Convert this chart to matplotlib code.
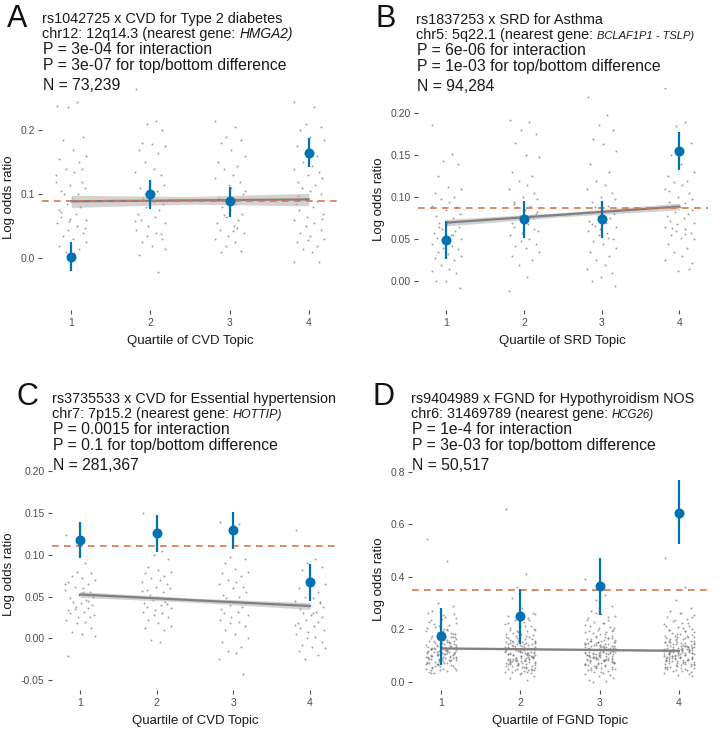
import numpy as np
import matplotlib
matplotlib.use("Agg")
import matplotlib.pyplot as plt

W, H = 722, 731
plt.rcParams['font.family'] = ['Liberation Sans', 'DejaVu Sans']

quartiles = [1, 2, 3, 4]

# ---------------- Panel A ----------------
A_mean = [0.002, 0.100, 0.089, 0.165]
A_lo = [-0.020, 0.077, 0.065, 0.142]
A_hi = [0.025, 0.122, 0.112, 0.188]
A_ref = 0.0895
A_fit_x = [1, 2.5, 4]
A_fit = [0.089, 0.0905, 0.092]
A_fit_lo = [0.0795, 0.0845, 0.0820]
A_fit_hi = [0.0985, 0.0965, 0.1015]
A_dots = [
    [0.238, 0.245, 0.236, 0.19, 0.185, 0.17, 0.16, 0.155, 0.15, 0.14, 0.135, 0.13, 0.12, 0.115, 0.11, 0.105,
     0.10, 0.10, 0.095, 0.09, 0.085, 0.08, 0.075, 0.07, 0.065, 0.06, 0.058, 0.055, 0.05, 0.045, 0.04,
     0.035, 0.03, 0.025, 0.02, 0.015, 0.01, 0.008, 0.12, 0.14, 0.062, 0.048, 0.072],
    [0.264, 0.215, 0.21, 0.20, 0.18, 0.178, 0.175, 0.17, 0.165, 0.15, 0.14, 0.135, 0.13, 0.12, 0.115, 0.11,
     0.105, 0.095, 0.09, 0.085, 0.08, 0.075, 0.07, 0.065, 0.06, 0.055, 0.05, 0.045, 0.04, 0.035, 0.03,
     0.025, 0.02, 0.015, 0.005, -0.022, 0.10, 0.088, 0.058, 0.038],
    [0.215, 0.205, 0.19, 0.185, 0.18, 0.17, 0.16, 0.15, 0.145, 0.14, 0.13, 0.125, 0.12, 0.115, 0.10, 0.095,
     0.085, 0.08, 0.075, 0.07, 0.065, 0.06, 0.055, 0.05, 0.045, 0.04, 0.035, 0.03, 0.025, 0.02, 0.012,
     0.01, 0.11, 0.105, 0.09, 0.048, 0.068, 0.042],
    [0.245, 0.236, 0.21, 0.205, 0.20, 0.19, 0.185, 0.175, 0.16, 0.15, 0.145, 0.14, 0.135, 0.13, 0.125, 0.12,
     0.115, 0.11, 0.105, 0.10, 0.095, 0.09, 0.085, 0.08, 0.075, 0.07, 0.065, 0.06, 0.055, 0.05, 0.045,
     0.04, 0.035, 0.03, 0.025, 0.02, 0.015, 0.01, -0.005, -0.006, 0.028, 0.062, 0.098],
]

# ---------------- Panel B ----------------
B_mean = [0.049, 0.074, 0.074, 0.155]
B_lo = [0.027, 0.051, 0.051, 0.132]
B_hi = [0.072, 0.096, 0.096, 0.178]
B_ref = 0.0876
B_fit_x = [1, 2.5, 4]
B_fit = [0.0698, 0.0794, 0.089]
B_fit_lo = [0.0658, 0.0769, 0.085]
B_fit_hi = [0.0738, 0.0819, 0.093]
B_dots = [
    [0.186, 0.152, 0.143, 0.14, 0.125, 0.112, 0.11, 0.105, 0.10, 0.098, 0.095, 0.09, 0.088, 0.085, 0.08,
     0.078, 0.075, 0.07, 0.068, 0.065, 0.062, 0.06, 0.058, 0.055, 0.052, 0.05, 0.048, 0.045, 0.042, 0.04,
     0.038, 0.035, 0.032, 0.03, 0.028, 0.025, 0.02, 0.015, 0.012, 0.01, 0.0, -0.008, 0.0, 0.055, 0.065, 0.072],
    [0.192, 0.19, 0.18, 0.175, 0.165, 0.15, 0.148, 0.13, 0.125, 0.12, 0.115, 0.11, 0.105, 0.10, 0.098,
     0.095, 0.09, 0.088, 0.085, 0.08, 0.078, 0.075, 0.07, 0.068, 0.065, 0.06, 0.058, 0.055, 0.05, 0.048,
     0.045, 0.042, 0.04, 0.035, 0.03, 0.025, 0.02, 0.005, -0.012, 0.062, 0.072, 0.082, 0.092],
    [0.22, 0.198, 0.186, 0.18, 0.17, 0.163, 0.155, 0.14, 0.13, 0.12, 0.115, 0.11, 0.105, 0.10, 0.098, 0.095,
     0.09, 0.088, 0.085, 0.08, 0.078, 0.075, 0.072, 0.07, 0.068, 0.065, 0.062, 0.06, 0.058, 0.055, 0.05,
     0.048, 0.045, 0.04, 0.035, 0.03, 0.025, 0.02, 0.015, 0.01, 0.005, -0.006, 0.0, 0.052, 0.066, 0.078],
    [0.23, 0.19, 0.185, 0.165, 0.15, 0.14, 0.13, 0.125, 0.12, 0.118, 0.115, 0.11, 0.105, 0.10, 0.098, 0.095,
     0.093, 0.09, 0.088, 0.085, 0.082, 0.08, 0.078, 0.075, 0.072, 0.07, 0.068, 0.065, 0.062, 0.06, 0.058,
     0.055, 0.052, 0.05, 0.045, 0.04, 0.035, 0.03, 0.025, 0.015, 0.012, 0.022, 0.108, 0.056, 0.064],
]

# ---------------- Panel C ----------------
C_mean = [0.118, 0.126, 0.130, 0.067]
C_lo = [0.096, 0.104, 0.107, 0.045]
C_hi = [0.140, 0.148, 0.152, 0.089]
C_ref = 0.1107
C_fit_x = [1, 2.5, 4]
C_fit = [0.0525, 0.0456, 0.0387]
C_fit_lo = [0.0491, 0.0431, 0.0347]
C_fit_hi = [0.0559, 0.0481, 0.0427]
C_dots = [
    [0.124, 0.09, 0.08, 0.078, 0.075, 0.072, 0.07, 0.068, 0.065, 0.062, 0.06, 0.058, 0.055, 0.052, 0.05,
     0.048, 0.046, 0.044, 0.042, 0.04, 0.038, 0.036, 0.034, 0.032, 0.03, 0.028, 0.025, 0.022, 0.02, 0.018,
     0.012, 0.008, 0.005, 0.003, -0.021, 0.045, 0.035, 0.055, 0.065, 0.025],
    [0.15, 0.105, 0.10, 0.095, 0.085, 0.082, 0.08, 0.078, 0.075, 0.072, 0.07, 0.068, 0.065, 0.062, 0.06,
     0.058, 0.055, 0.052, 0.05, 0.048, 0.046, 0.044, 0.042, 0.04, 0.038, 0.036, 0.034, 0.032, 0.03, 0.028,
     0.025, 0.022, 0.018, 0.015, 0.012, 0.01, -0.002, -0.004, 0.057, 0.041],
    [0.14, 0.137, 0.098, 0.095, 0.09, 0.083, 0.08, 0.078, 0.075, 0.07, 0.068, 0.065, 0.062, 0.06, 0.055,
     0.052, 0.05, 0.048, 0.045, 0.042, 0.04, 0.038, 0.035, 0.032, 0.03, 0.028, 0.025, 0.022, 0.02, 0.018,
     0.015, 0.01, 0.005, 0.0, -0.005, -0.01, -0.015, -0.018, -0.025, -0.043],
    [0.13, 0.095, 0.09, 0.085, 0.082, 0.07, 0.065, 0.06, 0.055, 0.05, 0.048, 0.045, 0.042, 0.04, 0.038,
     0.035, 0.032, 0.03, 0.028, 0.025, 0.022, 0.02, 0.018, 0.015, 0.012, 0.01, 0.008, 0.005, 0.002, 0.0,
     -0.005, -0.008, -0.01, -0.012, -0.015, -0.02, -0.025, 0.03, 0.016, 0.044],
]

# ---------------- Panel D ----------------
D_mean = [0.175, 0.250, 0.365, 0.645]
D_lo = [0.065, 0.145, 0.255, 0.525]
D_hi = [0.280, 0.355, 0.470, 0.770]
D_ref = 0.3496
D_fit_x = [1, 2.5, 4]
D_fit = [0.127, 0.1225, 0.118]
D_fit_lo = [0.123, 0.120, 0.114]
D_fit_hi = [0.131, 0.125, 0.122]
D_core = [0.262, 0.248, 0.236, 0.224, 0.213, 0.204, 0.197, 0.19, 0.182, 0.175, 0.168, 0.163, 0.157,
          0.151, 0.147, 0.143, 0.139, 0.135, 0.131, 0.127, 0.123, 0.119, 0.115, 0.111, 0.107, 0.103,
          0.099, 0.095, 0.091, 0.087, 0.083, 0.079, 0.075, 0.071, 0.067, 0.061, 0.055, 0.049, 0.043,
          0.036, 0.114, 0.124, 0.104, 0.094, 0.084, 0.144, 0.112, 0.098, 0.118, 0.128, 0.088, 0.108,
          0.138, 0.078, 0.092, 0.122, 0.102, 0.132, 0.082, 0.072, 0.152, 0.062, 0.172, 0.052, 0.192]
D_dots = [
    [0.545, 0.46, 0.30, 0.29, 0.27, 0.255, 0.241, 0.229, 0.218, 0.209, 0.201, 0.193, 0.186, 0.179,
     0.172, 0.166, 0.16, 0.154, 0.149, 0.145, 0.141, 0.137, 0.133, 0.129, 0.125, 0.121, 0.117, 0.113,
     0.109, 0.105, 0.101, 0.097, 0.093, 0.089, 0.085, 0.081, 0.077, 0.073, 0.069, 0.064, 0.058, 0.052,
     0.046, 0.04, 0.032, 0.134, 0.156, 0.066, 0.148, 0.116, 0.106, 0.126, 0.096, 0.086, 0.11, 0.12,
     0.1, 0.09, 0.13, 0.08, 0.14, 0.07, 0.15, 0.06, 0.16, 0.05, 0.17, 0.045, 0.18, 0.035, 0.2, 0.22,
     0.24, 0.26, 0.115, 0.095] + D_core,
    [0.66, 0.41, 0.36, 0.35, 0.32, 0.28, 0.26, 0.25, 0.242, 0.235, 0.228, 0.22, 0.214, 0.208, 0.202, 0.197,
     0.192, 0.187, 0.183, 0.179, 0.175, 0.171, 0.167, 0.163, 0.16, 0.157, 0.154, 0.151, 0.148, 0.145,
     0.142, 0.139, 0.136, 0.133, 0.13, 0.127, 0.124, 0.121, 0.118, 0.115, 0.112, 0.109, 0.106, 0.103,
     0.10, 0.097, 0.094, 0.091, 0.088, 0.085, 0.082, 0.079, 0.076, 0.073, 0.07, 0.067, 0.064, 0.061,
     0.058, 0.055, 0.052, 0.049, 0.046, 0.043, 0.04, 0.036, 0.032, 0.028, 0.022, 0.015, 0.005, 0.086,
     0.092, 0.098, 0.08, 0.074, 0.104, 0.11, 0.068, 0.062, 0.116, 0.122, 0.09, 0.084, 0.096, 0.078,
     0.072, 0.102, 0.066, 0.108, 0.128, 0.056, 0.134, 0.05, 0.14, 0.044, 0.146, 0.038, 0.152, 0.034] + D_core,
    [0.39, 0.33, 0.31, 0.29, 0.27, 0.26, 0.25, 0.243, 0.236, 0.229, 0.222, 0.216, 0.21, 0.204, 0.199, 0.194,
     0.189, 0.184, 0.18, 0.176, 0.172, 0.168, 0.164, 0.16, 0.156, 0.153, 0.15, 0.147, 0.144, 0.141, 0.138,
     0.135, 0.132, 0.129, 0.126, 0.123, 0.12, 0.117, 0.114, 0.111, 0.108, 0.105, 0.102, 0.099, 0.096,
     0.093, 0.09, 0.087, 0.084, 0.081, 0.078, 0.075, 0.072, 0.069, 0.066, 0.063, 0.06, 0.057, 0.054,
     0.051, 0.048, 0.045, 0.042, 0.038, 0.034, 0.03, 0.025, 0.02, 0.014, 0.008, 0.003, 0.0, 0.112,
     0.118, 0.106, 0.124, 0.1, 0.13, 0.094, 0.136, 0.088, 0.142, 0.082, 0.148, 0.076, 0.154, 0.07,
     0.16, 0.064, 0.166, 0.058, 0.115, 0.109, 0.121, 0.103, 0.127, 0.097, 0.133, 0.091, 0.139, 0.085] + D_core,
    [0.47, 0.36, 0.31, 0.28, 0.27, 0.262, 0.254, 0.246, 0.239, 0.232, 0.225, 0.219, 0.213, 0.207, 0.202,
     0.197, 0.192, 0.187, 0.183, 0.179, 0.175, 0.171, 0.167, 0.163, 0.159, 0.156, 0.153, 0.15, 0.147,
     0.144, 0.141, 0.138, 0.135, 0.132, 0.129, 0.126, 0.123, 0.12, 0.117, 0.114, 0.111, 0.108, 0.105,
     0.102, 0.099, 0.096, 0.093, 0.09, 0.087, 0.084, 0.081, 0.078, 0.075, 0.072, 0.069, 0.066, 0.063,
     0.06, 0.057, 0.054, 0.051, 0.048, 0.045, 0.042, 0.039, 0.035, 0.031, 0.027, 0.022, 0.116, 0.11,
     0.122, 0.104, 0.128, 0.098, 0.134, 0.092, 0.14, 0.086, 0.146, 0.08, 0.152, 0.074, 0.158, 0.068,
     0.164, 0.062, 0.17, 0.056, 0.176, 0.113, 0.119, 0.107, 0.125, 0.101, 0.131, 0.095, 0.137, 0.089] + D_core,
]

# ---------------- Header texts ----------------
letters = ["A", "B", "C", "D"]
title1 = ["rs1042725 x CVD for Type 2 diabetes", "rs1837253 x SRD for Asthma",
          "rs3735533 x CVD for Essential hypertension", "rs9404989 x FGND for Hypothyroidism NOS"]
title2 = ["chr12: 12q14.3 (nearest gene: ", "chr5: 5q22.1 (nearest gene: ",
          "chr7: 7p15.2 (nearest gene: ", "chr6: 31469789 (nearest gene: "]
gene = ["HMGA2)", "BCLAF1P1 - TSLP)", "HOTTIP)", "HCG26)"]
p_inter = ["P = 3e-04 for interaction", "P = 6e-06 for interaction",
           "P = 0.0015 for interaction", "P = 1e-4 for interaction"]
p_diff = ["P = 3e-07 for top/bottom difference", "P = 1e-03 for top/bottom difference",
          "P = 0.1 for top/bottom difference", "P = 3e-03 for top/bottom difference"]
n_text = ["N = 73,239", "N = 94,284", "N = 281,367", "N = 50,517"]
xlabels = ["Quartile of CVD Topic", "Quartile of SRD Topic", "Quartile of CVD Topic", "Quartile of FGND Topic"]
yticks = [[0.0, 0.1, 0.2], [0.0, 0.05, 0.10, 0.15, 0.20],
          [-0.05, 0.0, 0.05, 0.10, 0.15, 0.20], [0.0, 0.2, 0.4, 0.6, 0.8]]
yticklabels = [["0.0", "0.1", "0.2"], ["0.00", "0.05", "0.10", "0.15", "0.20"],
               ["-0.05", "0.00", "0.05", "0.10", "0.15", "0.20"], ["0.0", "0.2", "0.4", "0.6", "0.8"]]

# layout (pixel boxes) and header anchors
boxes = [
    dict(l=42, r=338, ylim=(-0.08, 0.27), p0=258.3, ppu=640.0, hx=42, hy=23, lx=7, ly=27, gs=9.9),
    dict(l=417.6, r=708, ylim=(-0.034, 0.23), p0=281.3, ppu=840.0, hx=416, hy=24, lx=375, ly=27, gs=8.0),
    dict(l=51.6, r=338.4, ylim=(-0.062, 0.215), p0=638.3, ppu=834.0, hx=52, hy=403, lx=16, ly=405, gs=8.9),
    dict(l=411.7, r=708.3, ylim=(-0.032, 0.81), p0=681.7, ppu=262.3, hx=411, hy=403, lx=373, ly=405, gs=8.3),
]

jit = [-0.18, 0.07, -0.04, 0.15, -0.11, 0.02, 0.19, -0.15, 0.10, -0.07, 0.04, -0.19, 0.13,
       -0.01, 0.17, -0.13, 0.08, -0.09, 0.01, 0.16, -0.05, 0.11, -0.16, 0.055, -0.125, 0.185, -0.025]

panels = [
    (A_mean, A_lo, A_hi, A_ref, A_fit_x, A_fit, A_fit_lo, A_fit_hi, A_dots),
    (B_mean, B_lo, B_hi, B_ref, B_fit_x, B_fit, B_fit_lo, B_fit_hi, B_dots),
    (C_mean, C_lo, C_hi, C_ref, C_fit_x, C_fit, C_fit_lo, C_fit_hi, C_dots),
    (D_mean, D_lo, D_hi, D_ref, D_fit_x, D_fit, D_fit_lo, D_fit_hi, D_dots),
]

fig = plt.figure(figsize=(W / 100, H / 100), dpi=100)
fig.patch.set_facecolor("white")

BLUE = "#0072B2"
ORANGE = "#D9774A"
TICKC = "#4D4D4D"
TXT = "#1a1a1a"

for i, (mean, lo, hi, ref, fx, fy, flo, fhi, dots) in enumerate(panels):
    b = boxes[i]
    top_px = b['p0'] - b['ppu'] * b['ylim'][1]
    bot_px = b['p0'] - b['ppu'] * b['ylim'][0]
    ax = fig.add_axes([b['l'] / W, 1 - bot_px / H, (b['r'] - b['l']) / W, (bot_px - top_px) / H])
    ax.set_xlim(0.63, 4.37)
    ax.set_ylim(*b['ylim'])
    for s in ax.spines.values():
        s.set_visible(False)
    # jittered points
    for q, ys in zip(quartiles, dots):
        xs = [q + jit[k % len(jit)] for k in range(len(ys))]
        ax.scatter(xs, ys, s=2.0, color="#7a7a7a", alpha=0.7, linewidths=0, zorder=1)
    # regression band and line
    ax.fill_between(fx, flo, fhi, color="#b5b5b5", alpha=0.6, linewidth=0, zorder=2)
    ax.plot(fx, fy, color="#808080", lw=1.6, zorder=3)
    # reference dashed line
    ax.axhline(ref, color=ORANGE, lw=1.2, ls=(0, (4.0, 3.2)), zorder=4)
    # estimates
    ax.vlines(quartiles, lo, hi, color=BLUE, lw=1.6, zorder=5)
    ax.plot(quartiles, mean, 'o', color=BLUE, ms=7.2, mec='none', zorder=6)
    ax.set_xticks(quartiles)
    ax.set_xticklabels([str(q) for q in quartiles])
    ax.set_yticks(yticks[i])
    ax.set_yticklabels(yticklabels[i])
    ax.tick_params(axis='both', colors=TICKC, labelsize=7.5, length=3, width=0.8, pad=2)
    ax.tick_params(axis='x', pad=3)
    ax.set_xlabel(xlabels[i], fontsize=9.5, color=TXT, labelpad=5)
    ax.set_ylabel("Log odds ratio", fontsize=9.5, color=TXT, labelpad=4)

    # header text
    hx, hy = b['hx'], b['hy']
    fig.text(b['lx'] / W, 1 - b['ly'] / H, letters[i], fontsize=22, va='baseline', ha='left', color="#111111")
    fig.text(hx / W, 1 - hy / H, title1[i], fontsize=10.4, va='baseline', ha='left', color=TXT)
    t2 = fig.text(hx / W, 1 - (hy + 15) / H, title2[i], fontsize=10.4, va='baseline', ha='left', color=TXT)
    r = fig.canvas.get_renderer()
    bb = t2.get_window_extent(renderer=r)
    fig.text(bb.x1 / W, 1 - (hy + 15) / H, gene[i], fontsize=b['gs'], style='italic',
             va='baseline', ha='left', color=TXT)
    fig.text((hx + 1) / W, 1 - (hy + 31) / H, p_inter[i], fontsize=11.3, va='baseline', ha='left', color=TXT)
    fig.text((hx + 1) / W, 1 - (hy + 47) / H, p_diff[i], fontsize=11.3, va='baseline', ha='left', color=TXT)
    fig.text((hx + 1) / W, 1 - (hy + 67) / H, n_text[i], fontsize=11.3, va='baseline', ha='left', color=TXT)

fig.savefig("out.png", dpi=100, facecolor="white")
